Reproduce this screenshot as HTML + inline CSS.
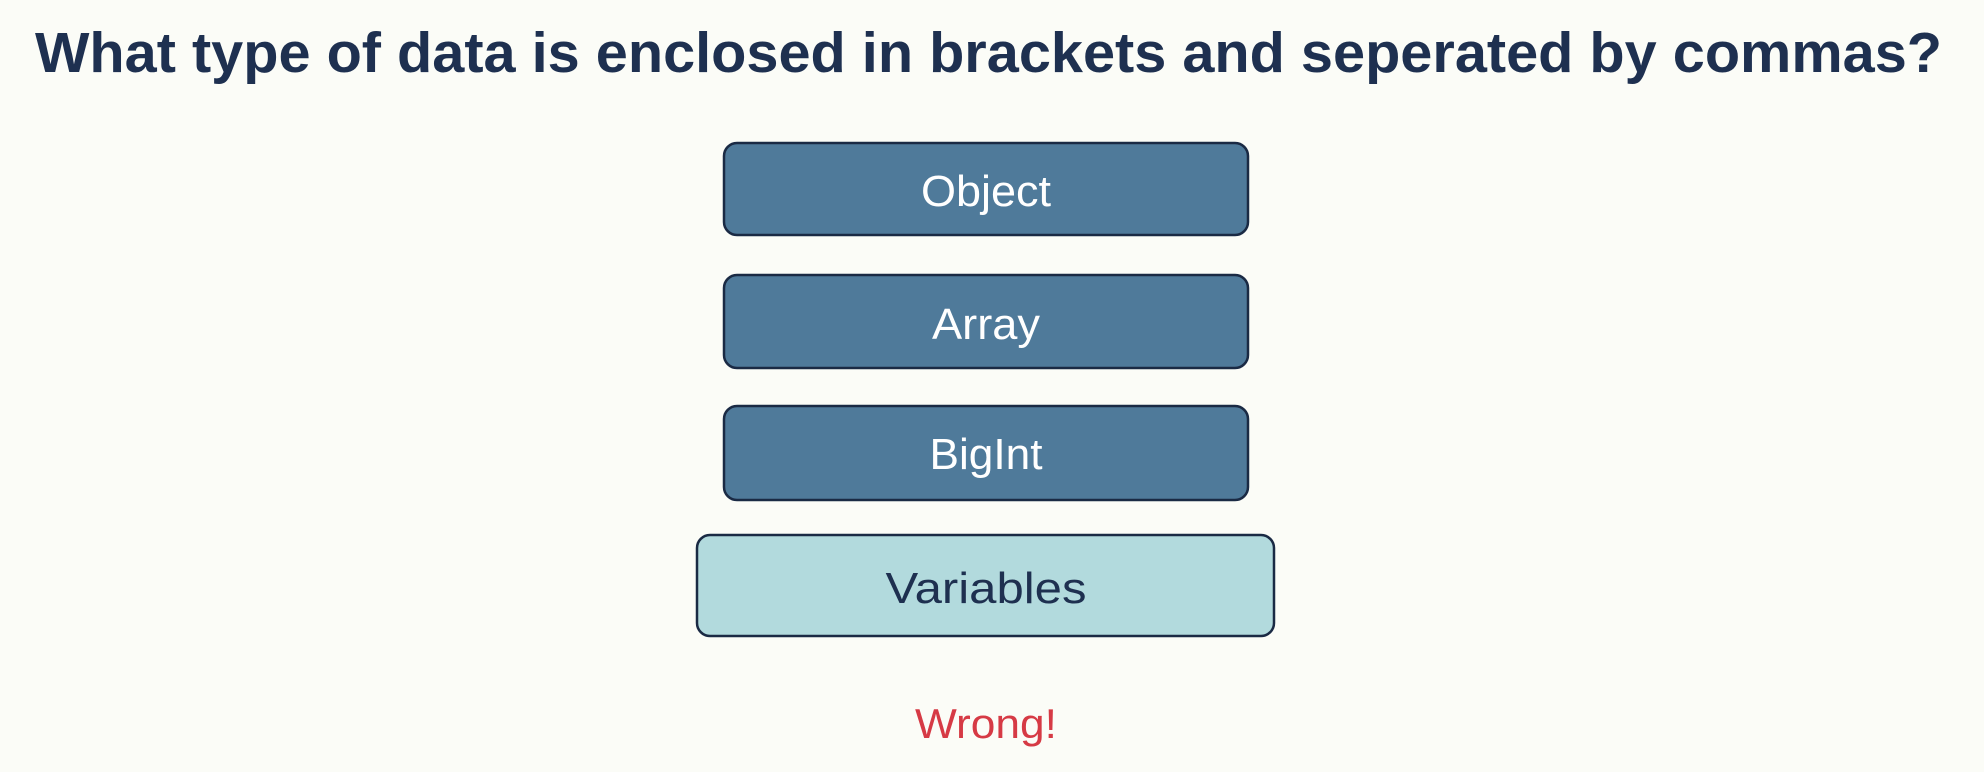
<!DOCTYPE html>
<html><head><meta charset="utf-8"><style>
html,body{margin:0;padding:0;background:#fbfcf7;}
svg{display:block}
</style></head><body>
<svg width="1984" height="772" viewBox="0 0 1984 772" xmlns="http://www.w3.org/2000/svg">
<rect width="1984" height="772" fill="#fbfcf7"/>
<text x="35" y="72" font-family="Liberation Sans, sans-serif" font-weight="bold" font-size="57" fill="#1e3050" textLength="1907" lengthAdjust="spacingAndGlyphs">What type of data is enclosed in brackets and seperated by commas?</text>
<g stroke="#1a2a44" stroke-width="2.5">
<rect x="724" y="143" width="524" height="92" rx="13" fill="#4f7a9a"/>
<rect x="724" y="275" width="524" height="93" rx="13" fill="#4f7a9a"/>
<rect x="724" y="406" width="524" height="94" rx="13" fill="#4f7a9a"/>
<rect x="697" y="535" width="577" height="101" rx="13" fill="#b2dadd"/>
</g>
<g font-family="Liberation Sans, sans-serif" font-size="44" text-anchor="middle">
<text x="986" y="206" fill="#ffffff" textLength="130" lengthAdjust="spacingAndGlyphs">Object</text>
<text x="986" y="339" fill="#ffffff" textLength="108" lengthAdjust="spacingAndGlyphs">Array</text>
<text x="986" y="469" fill="#ffffff" textLength="113" lengthAdjust="spacingAndGlyphs">BigInt</text>
<text x="986" y="603" fill="#1e3050" textLength="201" lengthAdjust="spacingAndGlyphs">Variables</text>
</g>
<text x="986" y="738" font-family="Liberation Sans, sans-serif" font-size="42" fill="#d63a45" text-anchor="middle" textLength="142" lengthAdjust="spacingAndGlyphs">Wrong!</text>
</svg>
</body></html>
